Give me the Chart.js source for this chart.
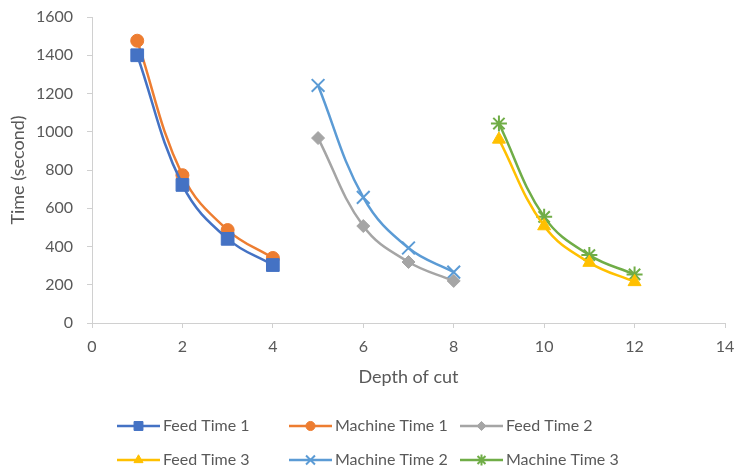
<!DOCTYPE html>
<html>
<head>
<meta charset="utf-8">
<title>Time vs depth of cut</title>
<script src="https://cdn.jsdelivr.net/npm/chart.js@4.4.1/dist/chart.umd.min.js"></script>
<style>
  body { margin: 0; background: #fff; }
  canvas { display: block; }
</style>
</head>
<body>
<canvas id="myChart" width="736" height="470"></canvas>
<script>
// depth of cut for each group
var depth1 = [1, 2, 3, 4];
var depth2 = [5, 6, 7, 8];
var depth3 = [9, 10, 11, 12];

// times in seconds
var feedTime1 = [1400, 722, 440, 303];
var machineTime1 = [1476, 773, 486, 340];
var feedTime2 = [967, 507, 319, 220];
var machineTime2 = [1242, 657, 392, 266];
var feedTime3 = [960, 507, 316, 215];
var machineTime3 = [1043, 555, 355, 254];

var xTicks = [0, 2, 4, 6, 8, 10, 12, 14];
var yTicks = [0, 200, 400, 600, 800, 1000, 1200, 1400, 1600];

function pairs(xs, ys) {
  return xs.map(function (x, i) { return { x: x, y: ys[i] }; });
}

function series(label, xs, ys, color, style, radius, filled) {
  return {
    label: label,
    data: pairs(xs, ys),
    borderColor: color,
    backgroundColor: color,
    pointBackgroundColor: color,
    pointBorderColor: color,
    pointStyle: style,
    pointRadius: radius,
    pointBorderWidth: filled ? 1 : 2,
    borderWidth: 2.5,
    tension: 0.4,
    showLine: true,
    fill: false
  };
}

Chart.defaults.font.family = 'Lato, "Open Sans", sans-serif';
Chart.defaults.color = '#595959';

// Excel-like legend: 3 columns, 2 rows, line + marker
var bottomLegend = {
  id: 'bottomLegend',
  afterDraw: function (chart) {
    var ctx = chart.ctx;
    var cols = [117, 289, 460];
    var rows = [426, 460];
    chart.data.datasets.forEach(function (ds, i) {
      var x = cols[i % 3];
      var y = rows[Math.floor(i / 3)];
      ctx.save();
      ctx.strokeStyle = ds.borderColor;
      ctx.fillStyle = ds.backgroundColor;
      ctx.lineWidth = 2.5;
      ctx.beginPath();
      ctx.moveTo(x, y);
      ctx.lineTo(x + 43, y);
      ctx.stroke();
      ctx.lineWidth = ds.pointBorderWidth;
      Chart.helpers.drawPoint(ctx, {
        pointStyle: ds.pointStyle,
        radius: ds.pointRadius * 0.7,
        rotation: 0,
        borderWidth: ds.pointBorderWidth
      }, x + 21.5, y);
      ctx.fillStyle = '#595959';
      ctx.font = '16px Lato, "Open Sans", sans-serif';
      ctx.textBaseline = 'middle';
      ctx.textAlign = 'left';
      ctx.fillText(ds.label, x + 46, y);
      ctx.restore();
    });
  }
};

function plainTick(value) { return String(value); }

var ctx = document.getElementById('myChart').getContext('2d');

var chart = new Chart(ctx, {
  type: 'scatter',
  data: {
    datasets: [
      series('Feed Time 1', depth1, feedTime1, '#4472C4', 'rect', 9, true),
      series('Machine Time 1', depth1, machineTime1, '#ED7D31', 'circle', 6.5, true),
      series('Feed Time 2', depth2, feedTime2, '#A5A5A5', 'rectRot', 6.5, true),
      series('Feed Time 3', depth3, feedTime3, '#FFC000', 'triangle', 7.5, true),
      series('Machine Time 2', depth2, machineTime2, '#5B9BD5', 'crossRot', 9, false),
      series('Machine Time 3', depth3, machineTime3, '#70AD47', 'star', 8, false)
    ]
  },
  options: {
    responsive: false,
    animation: false,
    layout: {
      padding: { top: 17, right: 9, bottom: 82, left: 0 }
    },
    plugins: {
      legend: { display: false },
      tooltip: { enabled: false }
    },
    scales: {
      x: {
        type: 'linear',
        min: xTicks[0],
        max: xTicks[xTicks.length - 1],
        afterBuildTicks: function (scale) {
          scale.ticks = xTicks.map(function (v) { return { value: v }; });
        },
        afterFit: function (scale) {
          scale.height = 65;
          scale.paddingLeft = 0;
          scale.paddingRight = 0;
        },
        border: { color: '#d0d0d0', width: 1 },
        grid: { display: true, drawOnChartArea: false, drawTicks: true, tickLength: 5, color: '#d0d0d0' },
        ticks: { padding: 9, font: { size: 16 }, color: '#595959', callback: plainTick },
        title: {
          display: true,
          text: 'Depth of cut',
          font: { size: 18 },
          color: '#595959',
          padding: { top: 0, bottom: 0 }
        }
      },
      y: {
        type: 'linear',
        min: yTicks[0],
        max: yTicks[yTicks.length - 1],
        afterBuildTicks: function (scale) {
          scale.ticks = yTicks.map(function (v) { return { value: v }; });
        },
        afterFit: function (scale) {
          scale.width = 92;
          scale.paddingTop = 0;
          scale.paddingBottom = 0;
        },
        border: { color: '#d0d0d0', width: 1 },
        grid: { display: true, drawOnChartArea: false, drawTicks: true, tickLength: 5, color: '#d0d0d0' },
        ticks: { padding: 14, font: { size: 16 }, color: '#595959', callback: plainTick },
        title: {
          display: true,
          text: 'Time (second)',
          font: { size: 18 },
          color: '#595959',
          padding: { top: 7, bottom: 0 }
        }
      }
    }
  },
  plugins: [bottomLegend]
});
</script>
</body>
</html>
